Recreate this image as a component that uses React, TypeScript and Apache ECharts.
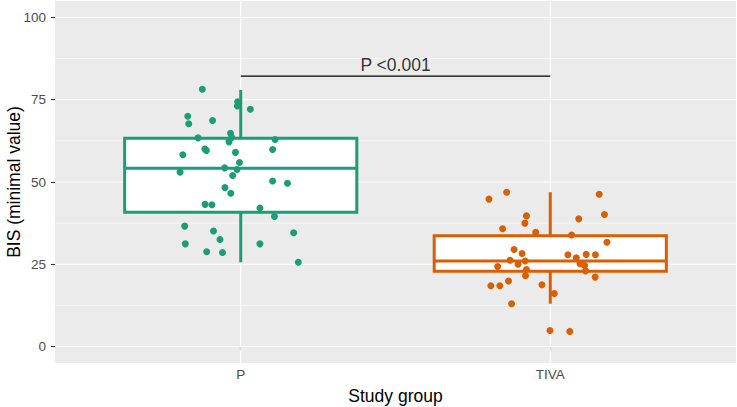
import React, { useEffect, useRef } from "react";
import * as echarts from "echarts";

const CATEGORIES = ["P", "TIVA"];
const COLORS = ["#1B9E77", "#D95F02"];

// jitter offsets (category units) and BIS values
const P_JITTER = [-0.124, -0.010, -0.011, 0.031, -0.171, -0.168, -0.091, -0.033, -0.029, -0.038, -0.138, 0.111, -0.116, -0.111, 0.103, -0.017, -0.187, -0.004, -0.196, -0.052, -0.012, -0.026, 0.103, 0.151, -0.051, -0.032, -0.115, -0.093, 0.062, 0.109, -0.181, -0.088, -0.067, 0.171, -0.179, 0.062, -0.110, -0.059, 0.186];
const P_VALUES = [78.2, 74.4, 73.1, 72.1, 70.0, 67.7, 68.7, 64.8, 63.5, 62.2, 63.4, 62.9, 60.0, 59.6, 59.9, 59.0, 58.3, 55.9, 53.0, 54.3, 53.8, 52.0, 50.3, 49.6, 48.3, 46.6, 43.2, 43.1, 42.1, 39.5, 36.6, 35.1, 32.5, 34.6, 31.2, 31.2, 28.8, 28.6, 25.6];

const TIVA_JITTER = [-0.198, -0.141, -0.077, -0.082, -0.154, -0.047, 0.158, 0.175, 0.092, 0.069, 0.183, -0.117, -0.091, 0.057, 0.084, 0.116, 0.146, -0.130, -0.104, -0.081, -0.170, -0.077, -0.080, 0.096, 0.111, 0.114, 0.145, -0.192, -0.163, -0.135, -0.027, 0.013, -0.125, -0.001, 0.063];
const TIVA_VALUES = [44.8, 46.9, 39.7, 37.5, 35.8, 34.7, 46.3, 40.1, 38.8, 33.9, 31.7, 29.5, 28.3, 27.9, 27.0, 28.0, 27.9, 26.2, 25.0, 26.0, 24.3, 23.4, 21.5, 25.2, 24.6, 23.0, 21.1, 18.5, 18.5, 19.9, 18.8, 16.1, 13.0, 4.9, 4.6];

// box stats: [lower whisker, Q1, median, Q3, upper whisker]
const P_BOX = [25.6, 40.8, 54.2, 63.3, 78.0];
const TIVA_BOX = [13.0, 22.9, 26.0, 33.7, 46.9];

const Y_TICKS = [0, 25, 50, 75, 100];
const Y_MINOR = [12.5, 37.5, 62.5, 87.5];
const X_TICKS = [1, 2];

const SIG_Y = 82.2;
const SIG_TEXT = "P <0.001";

const FONT = "Liberation Sans, Arial, Helvetica, sans-serif";

export default function App() {
  const ref = useRef<HTMLDivElement>(null);
  useEffect(() => {
    if (!ref.current) return;
    const chart = echarts.init(ref.current, null, { renderer: "svg" });

    const gridLinesY = [
      ...Y_TICKS.map((v) => [v, 1]),
      ...Y_MINOR.map((v) => [v, 0]),
    ];
    const boxes = [
      [X_TICKS[0], ...P_BOX],
      [X_TICKS[1], ...TIVA_BOX],
    ];
    const pPoints = P_JITTER.map((j, k) => [X_TICKS[0] + j, P_VALUES[k]]);
    const tPoints = TIVA_JITTER.map((j, k) => [X_TICKS[1] + j, TIVA_VALUES[k]]);

    const option: any = {
      animation: false,
      grid: {
        left: 55,
        right: 1,
        top: 1,
        bottom: 44,
        show: true,
        backgroundColor: "#EBEBEB",
        borderWidth: 0,
        containLabel: false,
        outerBoundsMode: "none",
      },
      xAxis: {
        type: "value",
        min: 0.4,
        max: 2.6,
        splitLine: { show: false },
        axisLine: { show: false },
        axisTick: {
          show: true,
          length: 4,
          customValues: X_TICKS,
          lineStyle: { color: "#333333", width: 1.1 },
        },
        axisLabel: {
          customValues: X_TICKS,
          formatter: (v: number) => CATEGORIES[Math.round(v) - 1] ?? "",
          color: "#4D4D4D",
          fontSize: 13.5,
          fontFamily: FONT,
          margin: 4,
        },
        name: "Study group",
        nameLocation: "middle",
        nameGap: 24,
        nameMoveOverlap: false,
        nameTextStyle: { fontSize: 17.5, color: "#000", fontFamily: FONT },
      },
      yAxis: {
        type: "value",
        min: -5,
        max: 105,
        splitLine: { show: false },
        axisLine: { show: false },
        axisTick: {
          show: true,
          length: 4,
          customValues: Y_TICKS,
          lineStyle: { color: "#333333", width: 1.1 },
        },
        axisLabel: {
          customValues: Y_TICKS,
          color: "#4D4D4D",
          fontSize: 13.5,
          fontFamily: FONT,
          margin: 9,
        },
        name: "BIS (minimal value)",
        nameLocation: "middle",
        nameGap: 32,
        nameMoveOverlap: false,
        nameTextStyle: { fontSize: 17.5, color: "#000", fontFamily: FONT },
      },
      series: [
        {
          type: "custom",
          z: 1,
          silent: true,
          data: gridLinesY,
          encode: { y: 0 },
          renderItem: (params: any, api: any) => {
            const cs = params.coordSys;
            const y = api.coord([1, api.value(0)])[1];
            const major = api.value(1) === 1;
            return {
              type: "line",
              shape: { x1: cs.x, y1: y, x2: cs.x + cs.width, y2: y },
              style: { stroke: "#FFFFFF", lineWidth: major ? 1.1 : 0.55 },
            };
          },
        },
        {
          type: "custom",
          z: 1,
          silent: true,
          data: X_TICKS.map((v) => [v]),
          encode: { x: 0 },
          renderItem: (params: any, api: any) => {
            const cs = params.coordSys;
            const x = api.coord([api.value(0), 50])[0];
            return {
              type: "line",
              shape: { x1: x, y1: cs.y, x2: x, y2: cs.y + cs.height },
              style: { stroke: "#FFFFFF", lineWidth: 1.1 },
            };
          },
        },
        {
          type: "custom",
          z: 2,
          silent: true,
          data: boxes,
          encode: { x: 0, y: [1, 2, 3, 4, 5] },
          renderItem: (params: any, api: any) => {
            const x = api.value(0);
            const low = api.value(1);
            const q1 = api.value(2);
            const med = api.value(3);
            const q3 = api.value(4);
            const high = api.value(5);
            const hw = 0.375;
            const color = COLORS[params.dataIndex];
            const tl = api.coord([x - hw, q3]);
            const br = api.coord([x + hw, q1]);
            const c = api.coord([x, q3]);
            const cHigh = api.coord([x, high]);
            const cQ1 = api.coord([x, q1]);
            const cLow = api.coord([x, low]);
            const mL = api.coord([x - hw, med]);
            const mR = api.coord([x + hw, med]);
            return {
              type: "group",
              children: [
                {
                  type: "line",
                  shape: { x1: c[0], y1: c[1], x2: cHigh[0], y2: cHigh[1] },
                  style: { stroke: color, lineWidth: 3 },
                },
                {
                  type: "line",
                  shape: { x1: cQ1[0], y1: cQ1[1], x2: cLow[0], y2: cLow[1] },
                  style: { stroke: color, lineWidth: 3 },
                },
                {
                  type: "rect",
                  shape: { x: tl[0], y: tl[1], width: br[0] - tl[0], height: br[1] - tl[1] },
                  style: { fill: "#FFFFFF", stroke: color, lineWidth: 3 },
                },
                {
                  type: "line",
                  shape: { x1: mL[0], y1: mL[1], x2: mR[0], y2: mR[1] },
                  style: { stroke: color, lineWidth: 3 },
                },
              ],
            };
          },
        },
        {
          type: "scatter",
          z: 3,
          symbolSize: 7,
          data: pPoints,
          itemStyle: { color: COLORS[0], opacity: 1 },
          silent: true,
        },
        {
          type: "scatter",
          z: 3,
          symbolSize: 7,
          data: tPoints,
          itemStyle: { color: COLORS[1], opacity: 1 },
          silent: true,
        },
        {
          type: "line",
          z: 4,
          silent: true,
          symbol: "none",
          data: [
            [X_TICKS[0], SIG_Y],
            [X_TICKS[1], SIG_Y],
          ],
          lineStyle: { color: "#000000", width: 1.2 },
        },
        {
          type: "scatter",
          z: 4,
          silent: true,
          symbolSize: 0,
          data: [[(X_TICKS[0] + X_TICKS[1]) / 2, SIG_Y]],
          label: {
            show: true,
            position: "top",
            distance: 2,
            formatter: SIG_TEXT,
            color: "#000000",
            fontSize: 17.5,
            fontFamily: FONT,
          },
        },
      ],
    };

    chart.setOption(option);
    return () => chart.dispose();
  }, []);

  return (
    <div
      ref={ref}
      style={{ position: "fixed", left: 0, top: 0, width: 737, height: 407, background: "#fff" }}
    />
  );
}
